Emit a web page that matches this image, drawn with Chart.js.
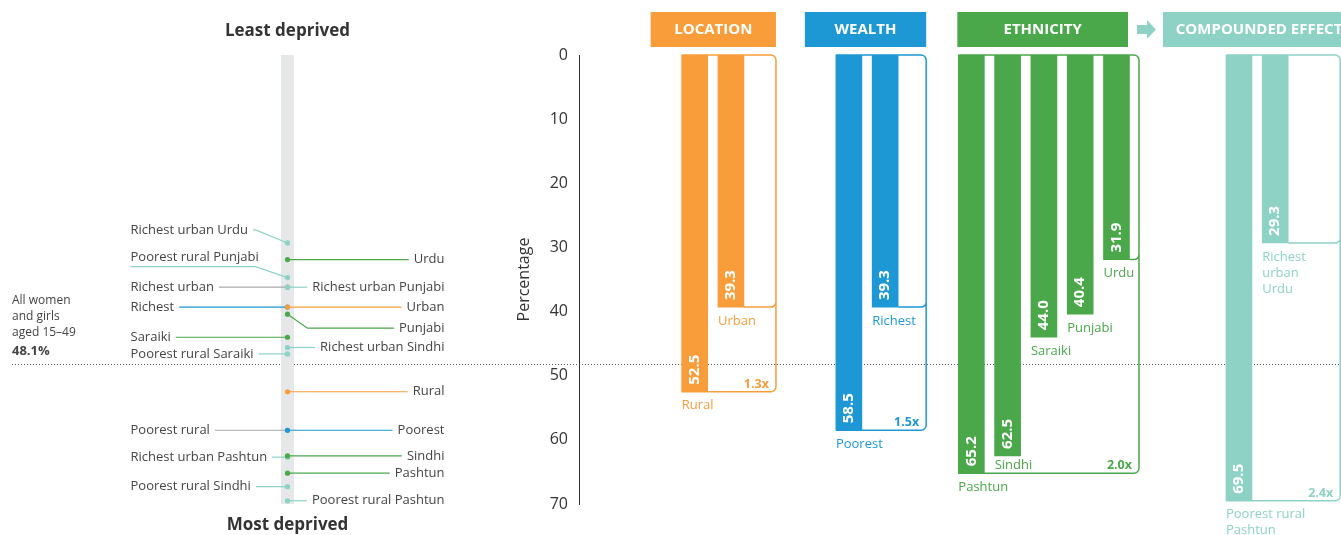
<!DOCTYPE html>
<html>
<head>
<meta charset="utf-8">
<script src="https://cdn.jsdelivr.net/npm/chart.js@4.4.0/dist/chart.umd.min.js"></script>
<style>
  html, body { margin: 0; padding: 0; background: #fff; }
  #wrap { position: relative; width: 1341px; height: 535px; overflow: hidden; }
  #wrap canvas { position: absolute; left: 0; top: 0; }
</style>
</head>
<body>
<div id="wrap">
  <canvas id="leftChart" width="1341" height="535"></canvas>
  <canvas id="barChart" width="1341" height="535"></canvas>
</div>
<script>
// ---- data ----
const groupNames = ['LOCATION', 'WEALTH', 'ETHNICITY', 'COMPOUNDED EFFECT']
const locationCats = ['Rural', 'Urban']
const locationVals = [52.5, 39.3]
const wealthCats = ['Poorest', 'Richest']
const wealthVals = [58.5, 39.3]
const ethnicityCats = ['Pashtun', 'Sindhi', 'Saraiki', 'Punjabi', 'Urdu']
const ethnicityVals = [65.2, 62.5, 44.0, 40.4, 31.9]
const compoundCats = [['Poorest rural', 'Pashtun'], ['Richest', 'urban', 'Urdu']]
const compoundVals = [69.5, 29.3]
const gapRatios = ['1.3x', '1.5x', '2.0x', '2.4x']
const nationalAvg = 48.1
const yTicks = [0, 10, 20, 30, 40, 50, 60, 70]

// left panel ranking (drawn in this order, later dots on top)
const rankLabels = ['Richest urban Urdu', 'Urdu', 'Poorest rural Punjabi', 'Richest urban', 'Richest urban Punjabi',
  'Richest', 'Urban', 'Punjabi', 'Saraiki', 'Richest urban Sindhi', 'Poorest rural Saraiki', 'Rural',
  'Poorest rural', 'Poorest', 'Richest urban Pashtun', 'Sindhi', 'Pashtun', 'Poorest rural Sindhi', 'Poorest rural Pashtun']
const rankVals = [29.3, 31.9, 34.7, 36.2, 36.2, 39.3, 39.3, 40.4, 44.0, 45.6, 46.6, 52.5,
  58.5, 58.5, 62.7, 62.5, 65.2, 67.3, 69.5]
const rankKind = ['compound', 'ethnicity', 'compound', 'mixed', 'compound', 'wealth', 'location', 'ethnicity',
  'ethnicity', 'compound', 'compound', 'location', 'mixed', 'wealth', 'compound', 'ethnicity', 'ethnicity',
  'compound', 'compound']

// ---- layout / style ----
const FONT = "'Open Sans', 'Noto Sans', sans-serif"
Chart.defaults.font.family = FONT
const groupColors = ['#F89D3A', '#1D98D5', '#4AA74A', '#8DD2C5']
const kindColors = { location: '#F89D3A', wealth: '#1D98D5', ethnicity: '#4AA74A', compound: '#8DD2C5', mixed: '#A9A9A9' }
const rankSide = ['L', 'R', 'L', 'L', 'R', 'L', 'R', 'R', 'L', 'R', 'L', 'R', 'L', 'R', 'L', 'R', 'R', 'L', 'R']
const rankNudge = [-13, 0, -11, 0, 0, 0, 0, 14, 0, 0, 0, 0, 0, 0, 0, 0, 0, 0, 0]
const underlined = ['Poorest rural Punjabi']
const slotStart = [25, 59, 86, 145]
const slotStep = 8
const slotCount = 168
const bracketExtra = [32, 28, 9.5, 52]
const headPadL = [31, 31, 1, 63]
const headTrimR = [0, 0, 11, -15]
const catLabelOffset = { Sindhi: 9 }

// ---- left panel ----
const leftPanel = {
  id: 'leftPanel',
  beforeDatasetsDraw(chart) {
    const { ctx, chartArea: a, scales: { y } } = chart
    const avgY = Math.round(y.getPixelForValue(nationalAvg)) + 0.5
    ctx.save()
    ctx.strokeStyle = '#555'
    ctx.lineWidth = 1
    ctx.setLineDash([1, 2])
    ctx.beginPath(); ctx.moveTo(12, avgY); ctx.lineTo(chart.width, avgY); ctx.stroke()
    ctx.setLineDash([])
    ctx.fillStyle = '#E6E7E8'
    ctx.fillRect(a.left, a.top, a.right - a.left, a.bottom - a.top)

    const meta = chart.getDatasetMeta(0)
    const cx = (a.left + a.right) / 2
    ctx.font = `13px ${FONT}`
    ctx.lineWidth = 1.2
    rankLabels.forEach((lab, i) => {
      const p = meta.data[i]
      const ly = p.y + rankNudge[i]
      const tw = ctx.measureText(lab).width
      ctx.strokeStyle = kindColors[rankKind[i]]
      ctx.beginPath()
      if (rankSide[i] === 'R') {
        ctx.moveTo(p.x, p.y)
        if (rankNudge[i]) ctx.lineTo(p.x + 20, ly)
        ctx.lineTo(cx + 157 - tw - 5, ly)
      } else {
        const start = underlined.includes(lab) ? cx - 157 : cx - 157 + tw + 5
        ctx.moveTo(start, ly)
        if (rankNudge[i]) ctx.lineTo(p.x - 32, ly)
        ctx.lineTo(p.x, p.y)
      }
      ctx.stroke()
    })
    ctx.restore()
  },
  afterDatasetsDraw(chart) {
    const { ctx, chartArea: a } = chart
    const meta = chart.getDatasetMeta(0)
    const cx = (a.left + a.right) / 2
    ctx.save()
    ctx.textBaseline = 'middle'
    ctx.fillStyle = '#333'
    ctx.textAlign = 'center'
    ctx.font = `bold 17px ${FONT}`
    ctx.fillText('Least deprived', cx, 31)
    ctx.fillText('Most deprived', cx, 525)

    ctx.font = `13px ${FONT}`
    ctx.fillStyle = '#444'
    rankLabels.forEach((lab, i) => {
      const p = meta.data[i]
      let ly = p.y + rankNudge[i]
      if (rankSide[i] === 'R') {
        ctx.textAlign = 'right'
        ctx.fillText(lab, cx + 157, ly)
      } else {
        ctx.textAlign = 'left'
        if (underlined.includes(lab)) ly -= 9
        ctx.fillText(lab, cx - 157, ly)
      }
    })

    ctx.textAlign = 'left'
    ctx.font = `12px ${FONT}`
    ctx.fillText('All women', 12, 301)
    ctx.fillText('and girls', 12, 317)
    ctx.fillText('aged 15–49', 12, 333)
    ctx.font = `bold 13px ${FONT}`
    ctx.fillText(nationalAvg.toFixed(1) + '%', 12, 351)
    ctx.restore()
  }
}

new Chart(document.getElementById('leftChart'), {
  type: 'scatter',
  data: {
    datasets: [{
      data: rankVals.map(v => ({ x: 0.5, y: v })),
      pointBackgroundColor: rankKind.map(k => kindColors[k]),
      pointBorderColor: rankKind.map(k => kindColors[k]),
      pointBorderWidth: 0,
      pointRadius: 2.6,
      clip: false
    }]
  },
  options: {
    responsive: false,
    animation: false,
    events: [],
    layout: { padding: { left: 281, right: 1341 - 294, top: 55, bottom: 31 } },
    scales: {
      x: { display: false, min: 0, max: 1 },
      y: { display: false, min: 0, max: 70, reverse: true }
    },
    plugins: { legend: { display: false }, tooltip: { enabled: false } }
  },
  plugins: [leftPanel]
})

// ---- bar panel ----
const groupCats = [locationCats, wealthCats, ethnicityCats, compoundCats]
const groupVals = [locationVals, wealthVals, ethnicityVals, compoundVals]
const slotLabels = new Array(slotCount).fill('')
const slotValues = new Array(slotCount).fill(null)
const slotColors = new Array(slotCount).fill('rgba(0,0,0,0)')
const groupIdx = []
groupCats.forEach((cats, g) => {
  groupIdx.push([])
  cats.forEach((c, k) => {
    const i = slotStart[g] + k * slotStep
    slotLabels[i] = c
    slotValues[i] = groupVals[g][k]
    slotColors[i] = groupColors[g]
    groupIdx[g].push(i)
  })
})

function bracketOf(meta, g) {
  const idx = groupIdx[g]
  const vals = idx.map(i => slotValues[i])
  const maxBar = meta.data[idx[vals.indexOf(Math.max(...vals))]]
  const minBar = meta.data[idx[vals.indexOf(Math.min(...vals))]]
  const first = meta.data[idx[0]]
  const last = meta.data[idx[idx.length - 1]]
  return {
    xL: first.x - first.width / 2,
    R: last.x + last.width / 2 + bracketExtra[g],
    y0: first.base,
    yMax: maxBar.y,
    yMin: minBar.y,
    minRight: minBar.x + minBar.width / 2
  }
}

const barDecor = {
  id: 'barDecor',
  beforeDatasetsDraw(chart) {
    const { ctx } = chart
    const meta = chart.getDatasetMeta(0)
    const r = 5
    ctx.save()
    ctx.lineWidth = 1.5
    groupIdx.forEach((idx, g) => {
      const b = bracketOf(meta, g)
      ctx.strokeStyle = groupColors[g]
      ctx.beginPath()
      ctx.moveTo(b.xL, b.y0)
      ctx.lineTo(b.R - r, b.y0)
      ctx.arcTo(b.R, b.y0, b.R, b.y0 + r, r)
      ctx.lineTo(b.R, b.yMax - r)
      ctx.arcTo(b.R, b.yMax, b.R - r, b.yMax, r)
      ctx.lineTo(b.xL, b.yMax)
      ctx.moveTo(b.minRight, b.yMin)
      ctx.lineTo(b.R - r, b.yMin)
      ctx.arcTo(b.R, b.yMin, b.R, b.yMin - r, r)
      ctx.stroke()
    })
    ctx.restore()
  },
  afterDatasetsDraw(chart) {
    const { ctx } = chart
    const meta = chart.getDatasetMeta(0)
    ctx.save()
    groupIdx.forEach((idx, g) => {
      const b = bracketOf(meta, g)
      idx.forEach(i => {
        const bar = meta.data[i]
        // value inside bar
        ctx.save()
        ctx.translate(bar.x, bar.y - 7)
        ctx.rotate(-Math.PI / 2)
        ctx.fillStyle = '#fff'
        ctx.font = `bold 15px ${FONT}`
        ctx.textAlign = 'left'
        ctx.textBaseline = 'middle'
        ctx.fillText(slotValues[i].toFixed(1), 0, 0)
        ctx.restore()
        // category label under bar
        const lab = slotLabels[i]
        const lines = Array.isArray(lab) ? lab : [lab]
        const off = catLabelOffset[lines[0]] ?? 14
        ctx.fillStyle = groupColors[g]
        ctx.font = `13px ${FONT}`
        ctx.textAlign = 'left'
        ctx.textBaseline = 'middle'
        lines.forEach((t, k) => ctx.fillText(t, bar.x - bar.width / 2, bar.y + off + k * 16))
      })
      // ratio
      ctx.fillStyle = groupColors[g]
      ctx.font = `bold 12.5px ${FONT}`
      ctx.textAlign = 'right'
      ctx.textBaseline = 'alphabetic'
      ctx.fillText(gapRatios[g], b.R - 7, b.yMax - 4)
      // header box
      const hl = b.xL - headPadL[g]
      const hr = b.R - headTrimR[g]
      ctx.fillStyle = groupColors[g]
      ctx.fillRect(hl, 12, hr - hl, 35)
      ctx.fillStyle = '#fff'
      ctx.font = `bold 15px ${FONT}`
      ctx.textAlign = 'center'
      ctx.textBaseline = 'middle'
      ctx.fillText(groupNames[g], (hl + hr) / 2, 30)
    })
    // arrow between ethnicity and compounded effect
    const e = bracketOf(meta, 2)
    const c = bracketOf(meta, 3)
    const ax0 = e.R - headTrimR[2] + 9
    const ax1 = c.xL - headPadL[3] - 7
    ctx.fillStyle = groupColors[3]
    ctx.fillRect(ax0, 25, 11, 9)
    ctx.beginPath()
    ctx.moveTo(ax0 + 10, 20)
    ctx.lineTo(ax1, 29.5)
    ctx.lineTo(ax0 + 10, 39)
    ctx.closePath()
    ctx.fill()
    ctx.restore()
  }
}

new Chart(document.getElementById('barChart'), {
  type: 'bar',
  data: {
    labels: slotLabels,
    datasets: [{
      data: slotValues,
      backgroundColor: slotColors,
      borderWidth: 0,
      barThickness: 26
    }]
  },
  options: {
    responsive: false,
    animation: false,
    events: [],
    layout: { padding: { left: 510, right: 0, top: 55, bottom: 31 } },
    scales: {
      x: { display: false },
      y: {
        min: 0,
        max: 70,
        reverse: true,
        afterFit: s => { s.width = 69 },
        afterBuildTicks: s => { s.ticks = yTicks.map(v => ({ value: v })) },
        ticks: { color: '#333', font: { size: 16 }, padding: 11 },
        grid: { display: false, drawTicks: false },
        border: { display: true, color: '#333', width: 1 },
        title: { display: true, text: 'Percentage', color: '#333', font: { size: 16 }, padding: { top: 5, bottom: 0 } }
      }
    },
    plugins: { legend: { display: false }, tooltip: { enabled: false } }
  },
  plugins: [barDecor]
})
</script>
</body>
</html>
